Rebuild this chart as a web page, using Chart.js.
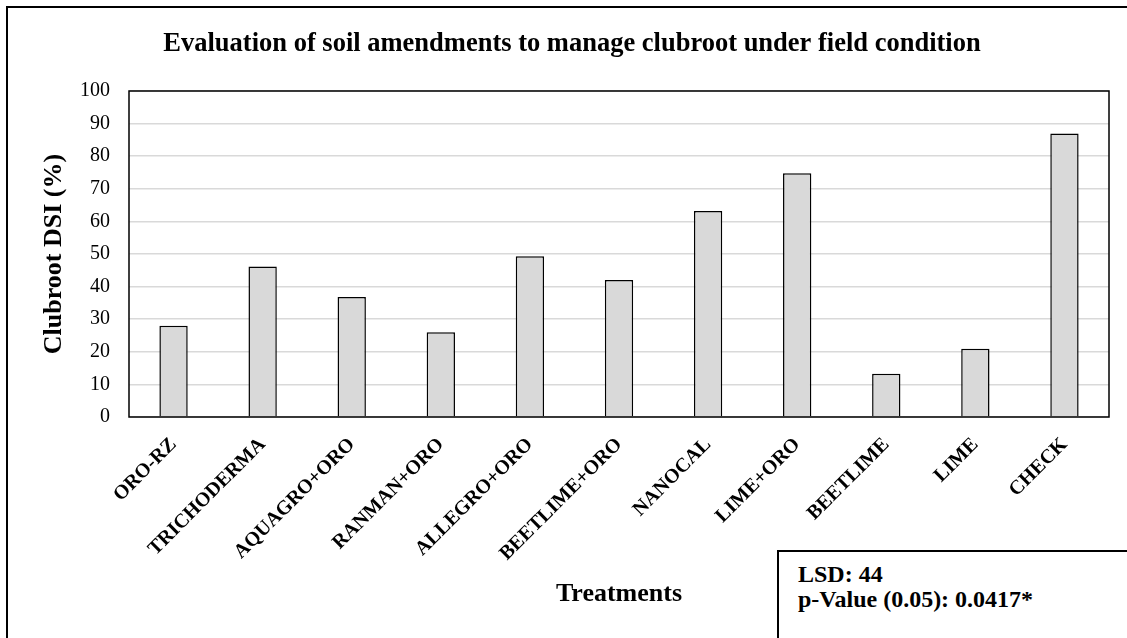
<!DOCTYPE html>
<html>
<head>
<meta charset="utf-8">
<script src="https://cdn.jsdelivr.net/npm/chart.js@4.4.1/dist/chart.umd.min.js"></script>
<style>
  html, body { margin: 0; padding: 0; background: #fff; }
  #wrap { position: relative; width: 1127px; height: 638px; overflow: hidden; background: #fff; }
  #frame { position: absolute; left: 6px; top: 6px; width: 3000px; height: 3000px;
           border-left: 2px solid #000; border-top: 2px solid #000; }
  #chart { position: absolute; left: 0; top: 0; }
  #stats { position: absolute; left: 777px; top: 550px; width: 600px; height: 300px;
           border: 2px solid #000; background: #fff; box-sizing: border-box;
           padding: 10px 0 0 19px;
           font-family: "Liberation Serif", "Times New Roman", serif; font-weight: bold;
           font-size: 24px; line-height: 25px; color: #000; }
</style>
</head>
<body>
<div id="wrap">
  <div id="frame"></div>
  <canvas id="chart" width="1127" height="638"></canvas>
  <div id="stats">LSD: 44<br>p-Value (0.05): 0.0417*</div>
</div>
<script>
// ---- data ----
const chartTitle = 'Evaluation of soil amendments to manage clubroot under field condition';
const categories = ['ORO-RZ', 'TRICHODERMA', 'AQUAGRO+ORO', 'RANMAN+ORO', 'ALLEGRO+ORO',
                    'BEETLIME+ORO', 'NANOCAL', 'LIME+ORO', 'BEETLIME', 'LIME', 'CHECK'];
const dsiValues = [28, 46.2, 36.8, 26, 49.3, 42, 63.2, 74.8, 13.3, 20.9, 87];
const yTickValues = [0, 10, 20, 30, 40, 50, 60, 70, 80, 90, 100];
const yAxisTitle = 'Clubroot DSI (%)';
const xAxisTitle = 'Treatments';

const SERIF = '"Liberation Serif", "Times New Roman", serif';
Chart.defaults.font.family = SERIF;
Chart.defaults.color = '#000';

const plotBorder = {
  id: 'plotBorder',
  afterDatasetsDraw(chart) {
    const { ctx, chartArea: a } = chart;
    ctx.save();
    ctx.strokeStyle = '#000';
    ctx.lineWidth = 1.5;
    ctx.strokeRect(a.left, a.top, a.right - a.left, a.bottom - a.top);
    ctx.restore();
  }
};

new Chart(document.getElementById('chart'), {
  type: 'bar',
  data: {
    labels: categories,
    datasets: [{
      data: dsiValues,
      backgroundColor: '#d9d9d9',
      borderColor: '#000',
      borderWidth: 1.5,
      categoryPercentage: 1,
      barPercentage: 0.318
    }]
  },
  options: {
    responsive: false,
    animation: false,
    layout: { padding: { left: 35, right: 18, top: 0, bottom: 0 } },
    plugins: {
      legend: { display: false },
      tooltip: { enabled: false },
      title: {
        display: true,
        text: chartTitle,
        color: '#000',
        font: { family: SERIF, size: 26.5, weight: 'bold' },
        padding: { top: 28.4, bottom: 30.8 }
      }
    },
    scales: {
      x: {
        afterFit: s => { s.height = 221; },
        grid: { display: false },
        border: { display: false },
        ticks: {
          autoSkip: false,
          maxRotation: 45,
          minRotation: 45,
          padding: 8,
          color: '#000',
          font: { family: SERIF, size: 20, weight: 'bold' }
        },
        title: {
          display: true,
          text: xAxisTitle,
          color: '#000',
          font: { family: SERIF, size: 26, weight: 'bold' },
          padding: { top: 0, bottom: 28.2 }
        }
      },
      y: {
        min: 0,
        max: 100,
        afterFit: s => { s.width = 94; },
        afterBuildTicks: s => { s.ticks = yTickValues.map(v => ({ value: v })); },
        grid: { color: '#d9d9d9', lineWidth: 1.5, drawTicks: false },
        border: { display: false },
        ticks: {
          padding: 19,
          color: '#000',
          font: { family: SERIF, size: 20 }
        },
        title: {
          display: true,
          text: yAxisTitle,
          color: '#000',
          font: { family: SERIF, size: 26, weight: 'bold' },
          padding: { top: 3.4, bottom: 0 }
        }
      }
    }
  },
  plugins: [plotBorder]
});
</script>
</body>
</html>
